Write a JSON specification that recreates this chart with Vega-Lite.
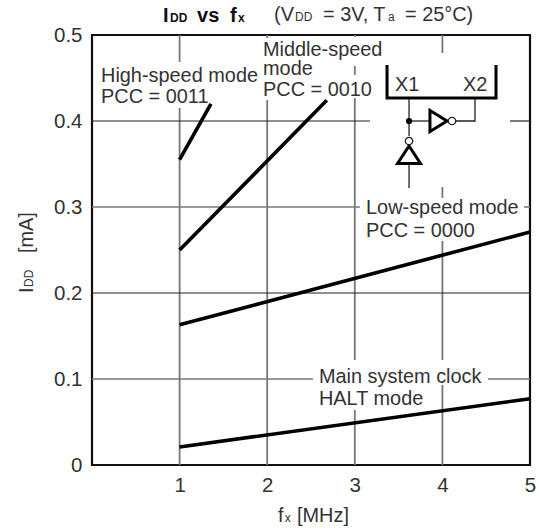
{"$schema":"https://vega.github.io/schema/vega-lite/v6.json","width":438,"height":430,"autosize":"none","padding":{"left":92,"top":35,"right":10,"bottom":66},"background":"white","config":{"view":{"stroke":"#111","strokeWidth":2.2}},"layer":[
{"data":{"values":[{"x":1,"y":0.5,"y2":0.4686},{"x":1,"y":0.4151,"y2":0},{"x":2,"y":0.5,"y2":0.4965},{"x":2,"y":0.4244,"y2":0},{"x":3,"y":0.5,"y2":0.4977},{"x":3,"y":0.464,"y2":0.4535},{"x":3,"y":0.4267,"y2":0.1221},{"x":3,"y":0.064,"y2":0},{"x":4,"y":0.5,"y2":0.4791},{"x":4,"y":0.3233,"y2":0.3105},{"x":4,"y":0.2605,"y2":0.1221},{"x":4,"y":0.093,"y2":0}]},"mark":{"type":"rule","stroke":"#777","strokeWidth":1.8},"encoding":{"x":{"field":"x","type":"quantitative","scale":{"domain":[0,5],"nice":false},"axis":{"values":[1,2,3,4,5],"title":null,"grid":false,"domain":false,"ticks":false,"labelFont":"Liberation Sans","labelFontSize":20.5,"labelColor":"#333","labelPadding":10,"labelFlush":false,"format":"d"}},"y":{"field":"y","type":"quantitative","scale":{"domain":[0,0.5],"nice":false},"axis":{"values":[0,0.1,0.2,0.3,0.4,0.5],"title":null,"grid":false,"domain":false,"ticks":false,"labelFont":"Liberation Sans","labelFontSize":20.5,"labelColor":"#333","labelPadding":10,"format":".1~f"}},"y2":{"field":"y2"}}},
{"data":{"values":[{"x":0,"x2":3.059,"y":0.3},{"x":4.932,"x2":5,"y":0.3},{"x":0,"x2":2.523,"y":0.1},{"x":4.521,"x2":5,"y":0.1}]},"mark":{"type":"rule","stroke":"#777","strokeWidth":1.6},"encoding":{"x":{"field":"x","type":"quantitative"},"x2":{"field":"x2"},"y":{"field":"y","type":"quantitative"}}},
{"data":{"values":[{"x":0,"x2":3.174,"y":0.4},{"x":4.772,"x2":5,"y":0.4},{"x":0,"x2":5,"y":0.2}]},"mark":{"type":"rule","stroke":"#222","strokeWidth":1.2},"encoding":{"x":{"field":"x","type":"quantitative"},"x2":{"field":"x2"},"y":{"field":"y","type":"quantitative"}}},
{"data":{"values":[{"s":"High-speed","x":1,"y":0.355},{"s":"High-speed","x":1.358,"y":0.42},{"s":"Middle-speed","x":1,"y":0.25},{"s":"Middle-speed","x":2.68,"y":0.424},{"s":"Low-speed","x":1,"y":0.163},{"s":"Low-speed","x":5,"y":0.271},{"s":"HALT","x":1,"y":0.021},{"s":"HALT","x":5,"y":0.077}]},"mark":{"type":"line","stroke":"black","strokeWidth":3.6},"encoding":{"x":{"field":"x","type":"quantitative"},"y":{"field":"y","type":"quantitative"},"detail":{"field":"s"}}},
{"data":{"values":[{"g":"a","o":0,"x":3.619,"y":0.4267},{"g":"a","o":1,"x":3.619,"y":0.3826},{"g":"b","o":0,"x":3.619,"y":0.4},{"g":"b","o":1,"x":3.858,"y":0.4},{"g":"c","o":0,"x":3.619,"y":0.35},{"g":"c","o":1,"x":3.619,"y":0.3221},{"g":"d","o":0,"x":4.155,"y":0.4},{"g":"d","o":1,"x":4.372,"y":0.4},{"g":"d","o":2,"x":4.372,"y":0.4267}]},"mark":{"type":"line","stroke":"#222","strokeWidth":1.3},"encoding":{"x":{"field":"x","type":"quantitative"},"y":{"field":"y","type":"quantitative"},"detail":{"field":"g"},"order":{"field":"o"}}},
{"data":{"values":[{"g":"bracket","o":0,"x":3.368,"y":0.4651},{"g":"bracket","o":1,"x":3.368,"y":0.4267},{"g":"bracket","o":2,"x":4.612,"y":0.4267},{"g":"bracket","o":3,"x":4.612,"y":0.4651},{"g":"up","o":0,"x":3.619,"y":0.3506},{"g":"up","o":1,"x":3.488,"y":0.3506},{"g":"up","o":2,"x":3.619,"y":0.3709},{"g":"up","o":3,"x":3.75,"y":0.3506},{"g":"up","o":4,"x":3.619,"y":0.3506},{"g":"right","o":0,"x":3.858,"y":0.4},{"g":"right","o":1,"x":3.858,"y":0.4122},{"g":"right","o":2,"x":4.053,"y":0.4},{"g":"right","o":3,"x":3.858,"y":0.3878},{"g":"right","o":4,"x":3.858,"y":0.4}]},"mark":{"type":"line","stroke":"black","strokeWidth":3,"strokeJoin":"miter"},"encoding":{"x":{"field":"x","type":"quantitative"},"y":{"field":"y","type":"quantitative"},"detail":{"field":"g"},"order":{"field":"o"}}},
{"data":{"values":[{"x":3.619,"y":0.3767},{"x":4.11,"y":0.4}]},"mark":{"type":"point","filled":true,"fill":"white","stroke":"#222","strokeWidth":1.3,"size":55,"opacity":1},"encoding":{"x":{"field":"x","type":"quantitative"},"y":{"field":"y","type":"quantitative"}}},
{"data":{"values":[{"x":3.619,"y":0.4}]},"mark":{"type":"point","filled":true,"fill":"black","stroke":"black","size":18,"opacity":1},"encoding":{"x":{"field":"x","type":"quantitative"},"y":{"field":"y","type":"quantitative"}}},
{"data":{"values":[{"t":"High-speed mode","x":0.103,"y":0.4453},{"t":"PCC = 0011","x":0.103,"y":0.4209},{"t":"Middle-speed","x":1.952,"y":0.4756},{"t":"mode","x":1.952,"y":0.4535},{"t":"PCC = 0010","x":1.952,"y":0.4291},{"t":"X1","x":3.459,"y":0.4349},{"t":"X2","x":4.235,"y":0.4349},{"t":"Low-speed mode","x":3.128,"y":0.2919},{"t":"PCC = 0000","x":3.128,"y":0.2655},{"t":"Main system clock","x":2.591,"y":0.0953},{"t":"HALT mode","x":2.591,"y":0.0698},{"t":"(V","x":2.078,"y":0.5163},{"t":"= 3V, T","x":2.637,"y":0.5163},{"t":"= 25°C)","x":3.573,"y":0.5163},{"t":"f","x":2.123,"y":-0.0663},{"t":"[MHz]","x":2.34,"y":-0.0663}]},"mark":{"type":"text","font":"Liberation Sans","fontSize":19.9,"color":"#333","align":"left","baseline":"alphabetic"},"encoding":{"x":{"field":"x","type":"quantitative"},"y":{"field":"y","type":"quantitative"},"text":{"field":"t"}}},
{"data":{"values":[{"t":"DD","x":2.317,"y":0.5163},{"t":"a","x":3.379,"y":0.5163},{"t":"x","x":2.2,"y":-0.0663}]},"mark":{"type":"text","font":"Liberation Sans","fontSize":12,"color":"#333","align":"left","baseline":"alphabetic"},"encoding":{"x":{"field":"x","type":"quantitative"},"y":{"field":"y","type":"quantitative"},"text":{"field":"t"}}},
{"data":{"values":[{"t":"I","x":0.81,"y":0.5151},{"t":"vs","x":1.199,"y":0.5151},{"t":"f","x":1.575,"y":0.5151}]},"mark":{"type":"text","font":"Liberation Sans","fontWeight":"bold","fontSize":20,"color":"#111","align":"left","baseline":"alphabetic"},"encoding":{"x":{"field":"x","type":"quantitative"},"y":{"field":"y","type":"quantitative"},"text":{"field":"t"}}},
{"data":{"values":[{"t":"DD","x":0.89,"y":0.5151},{"t":"x","x":1.667,"y":0.5151}]},"mark":{"type":"text","font":"Liberation Sans","fontWeight":"bold","fontSize":12,"color":"#111","align":"left","baseline":"alphabetic"},"encoding":{"x":{"field":"x","type":"quantitative"},"y":{"field":"y","type":"quantitative"},"text":{"field":"t"}}},
{"data":{"values":[{"t":"I","x":-0.6735,"y":0.2}, {"t":"[mA]","x":-0.6735,"y":0.2465}]},"mark":{"type":"text","font":"Liberation Sans","fontSize":19.9,"angle":270,"color":"#333","align":"left","baseline":"alphabetic"},"encoding":{"x":{"field":"x","type":"quantitative"},"y":{"field":"y","type":"quantitative"},"text":{"field":"t"}}},
{"data":{"values":[{"t":"DD","x":-0.6735,"y":0.2070}]},"mark":{"type":"text","font":"Liberation Sans","fontSize":12,"angle":270,"color":"#333","align":"left","baseline":"alphabetic"},"encoding":{"x":{"field":"x","type":"quantitative"},"y":{"field":"y","type":"quantitative"},"text":{"field":"t"}}}
]}
